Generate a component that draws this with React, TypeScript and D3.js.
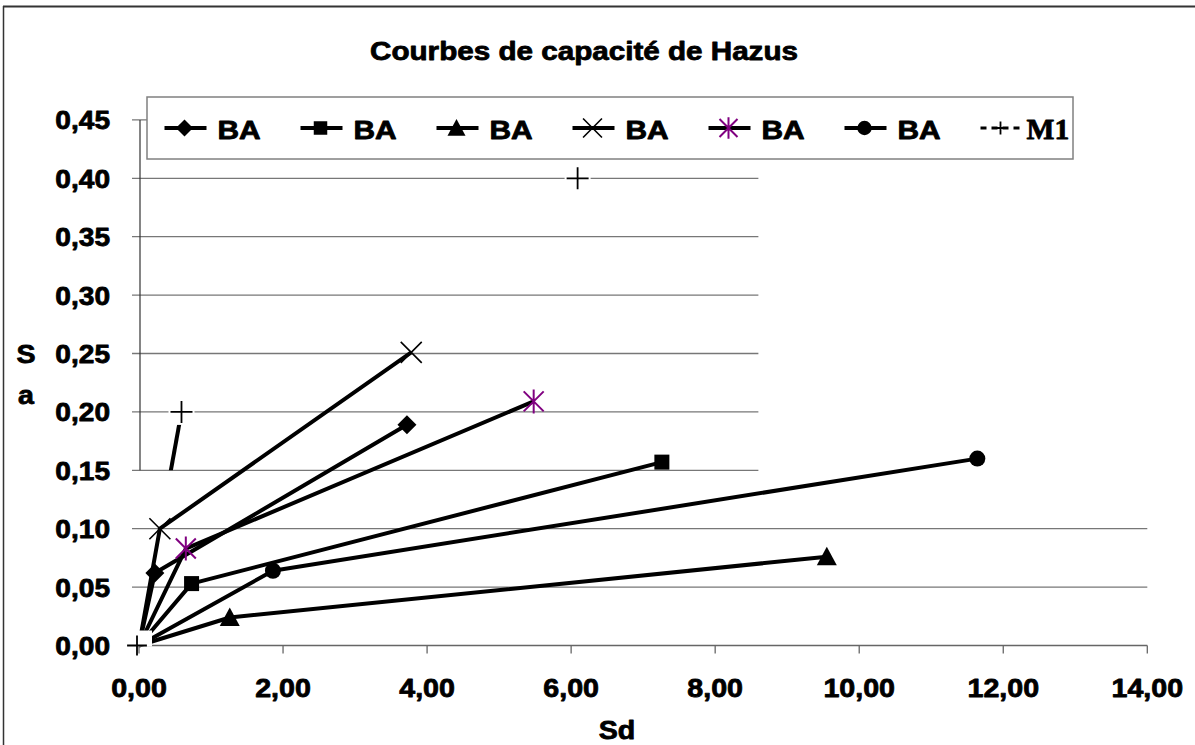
import * as d3 from 'd3'

const W = 1195, H = 745

// Hazus capacity curves (Sd, Sa)
const sdDiamond = [0, 0.22, 3.72]
const saDiamond = [0, 0.062, 0.189]
const sdSquare = [0, 0.73, 7.26]
const saSquare = [0, 0.053, 0.157]
const sdTriangle = [0, 1.26, 9.55]
const saTriangle = [0, 0.024, 0.076]
const sdCross = [0, 0.29, 3.78]
const saCross = [0, 0.1, 0.251]
const sdStar = [0, 0.65, 5.48]
const saStar = [0, 0.083, 0.209]
const sdCircle = [0, 1.86, 11.64]
const saCircle = [0, 0.064, 0.16]
const sdM1 = [0, 0.59, 6.09]
const saM1 = [0, 0.2, 0.4]

const legendNames = ['BA', 'BA', 'BA', 'BA', 'BA', 'BA', 'M1']
const xTicks = [0, 2, 4, 6, 8, 10, 12, 14]
const yTicks = [0, 0.05, 0.1, 0.15, 0.2, 0.25, 0.3, 0.35, 0.4, 0.45]

const x = d3.scaleLinear().domain([0, 14]).range([139, 1147.3])
const y = d3.scaleLinear().domain([0, 0.45]).range([645.5, 119.9])

const fmt = (v: number, d: number) => v.toFixed(d).replace('.', ',')
const ARIAL = "'Liberation Sans', Arial, sans-serif"
const SERIF = "'Liberation Serif', 'Times New Roman', serif"

const SText = ({ x, y, anchor = 'start', size = 26, sx = 1.1, family = ARIAL, fill = '#000', children }: any) => (
  <g transform={`translate(${x},${y}) scale(${sx},1)`}>
    <text textAnchor={anchor} fontSize={size} fontWeight="bold" fontFamily={family} fill={fill}
      stroke={fill} strokeWidth={0.8} strokeLinejoin="round">{children}</text>
  </g>
)

// marker drawing, centred on 0,0
const Marker = ({ kind, s = 1 }: { kind: string, s?: number }) => {
  if (kind === 'diamond') {
    const r = 9.5 * s
    return <path d={`M0,${-r}L${r},0L0,${r}L${-r},0Z`} fill="#000" />
  }
  if (kind === 'square') {
    const r = 7.5 * s
    return <rect x={-r} y={-r} width={2 * r} height={2 * r} fill="#000" />
  }
  if (kind === 'triangle') {
    const r = 10 * s
    return <path d={`M0,${-r}L${r},${r * 0.85}L${-r},${r * 0.85}Z`} fill="#000" />
  }
  if (kind === 'circle') {
    return <circle r={8 * s} fill="#000" />
  }
  if (kind === 'x') {
    const r = 10.5 * s
    return <path d={`M${-r},${-r}L${r},${r}M${-r},${r}L${r},${-r}`} stroke="#000" strokeWidth={1.6} />
  }
  if (kind === 'star') {
    const r = 10 * s
    return <path d={`M${-r},${-r}L${r},${r}M${-r},${r}L${r},${-r}M0,${-r * 1.2}L0,${r * 1.2}`} stroke="#800080" strokeWidth={2} />
  }
  // plus
  const r = 11 * s
  return <path d={`M${-r},0L${r},0M0,${-r}L0,${r}`} stroke="#000" strokeWidth={1.8} />
}

const series = [
  { kind: 'diamond', sd: sdDiamond, sa: saDiamond },
  { kind: 'square', sd: sdSquare, sa: saSquare },
  { kind: 'triangle', sd: sdTriangle, sa: saTriangle },
  { kind: 'x', sd: sdCross, sa: saCross },
  { kind: 'star', sd: sdStar, sa: saStar },
  { kind: 'circle', sd: sdCircle, sa: saCircle },
]
const legendKinds = ['diamond', 'square', 'triangle', 'x', 'star', 'circle', 'plus']

const line = d3.line<[number, number]>().x(d => x(d[0])).y(d => y(d[1]))

export default function App() {
  const gridEnd = x(8.6)
  const upper = yTicks.filter(t => t >= 0.15)
  const lower = yTicks.filter(t => t > 0 && t < 0.15)
  const m1pts: [number, number][] = sdM1.map((d, i) => [d, saM1[i]])

  return (
    <svg width={W} height={H} style={{ position: 'absolute', left: 0, top: 0, background: '#fff' }}>
      <defs>
        <clipPath id="upperClip">
          <rect x={0} y={0} width={W} height={y(0.15)} />
        </clipPath>
        <clipPath id="ylabClip">
          <rect x={0} y={0} width={60} height={421} />
        </clipPath>
      </defs>

      {/* outer frame */}
      <line x1={3.5} y1={6} x2={3.5} y2={H} stroke="#333" strokeWidth={1.5} />
      <line x1={3} y1={6.5} x2={W} y2={6.5} stroke="#333" strokeWidth={2.2} />

      <SText x={584} y={60} anchor="middle" size={26} sx={1.14}>Courbes de capacité de Hazus</SText>

      {/* grid */}
      {upper.map(t => (
        <line key={t} x1={x(0) - 7} x2={gridEnd} y1={y(t)} y2={y(t)} stroke="#777" strokeWidth={1.3} />
      ))}
      {lower.map(t => (
        <line key={t} x1={x(0) - 7} x2={x(14)} y1={y(t)} y2={y(t)} stroke="#777" strokeWidth={1.3} />
      ))}
      <line x1={x(0) + 1} x2={x(0) + 1} y1={y(0.45)} y2={y(0.15)} stroke="#333" strokeWidth={1.2} />
      <line x1={x(0)} x2={x(14)} y1={y(0)} y2={y(0)} stroke="#666" strokeWidth={1.5} />
      {xTicks.map(t => (
        <line key={t} x1={x(t)} x2={x(t)} y1={y(0)} y2={y(0) + 8} stroke="#666" strokeWidth={1.3} />
      ))}

      {/* M1 : only the first piece of its line shows */}
      <path d={line(m1pts.slice(0, 2)) || ''} clipPath="url(#upperClip)" fill="none" stroke="#000" strokeWidth={4} />
      {m1pts.slice(1).map((p, i) => (
        <g key={i} transform={`translate(${x(p[0])},${y(p[1])})`}>
          <rect x={-13} y={-13} width={26} height={26} fill="#fff" />
          <Marker kind="plus" />
        </g>
      ))}

      {/* BA curves */}
      {series.map((s, i) => {
        const pts: [number, number][] = s.sd.map((d, j) => [d, s.sa[j]])
        return (
          <g key={i}>
            <path d={line(pts) || ''} fill="none" stroke="#000" strokeWidth={4} strokeLinejoin="round" />
            {pts.slice(1).map((p, j) => (
              <g key={j} transform={`translate(${x(p[0])},${y(p[1])})`}>
                <Marker kind={s.kind} />
              </g>
            ))}
          </g>
        )
      })}

      {/* origin */}
      <rect x={x(0) - 11} y={y(0) - 15} width={24} height={16} fill="#fff" />
      <g transform={`translate(${x(m1pts[0][0]) - 2},${y(m1pts[0][1])})`}>
        <Marker kind="plus" s={0.9} />
      </g>

      {/* legend */}
      <rect x={147} y={97} width={926} height={62} fill="#fff" stroke="#808080" strokeWidth={1.5} />
      {legendNames.map((name, i) => {
        const lx = 164.5 + i * 136
        const ly = 128
        const isM1 = name === 'M1'
        return (
          <g key={i}>
            <line x1={lx} x2={lx + 42} y1={ly} y2={ly} stroke="#000" strokeWidth={isM1 ? 3 : 4}
              strokeDasharray={isM1 ? '6,5' : undefined} />
            <g transform={`translate(${lx + 20},${ly})`}>
              <Marker kind={legendKinds[i]} s={isM1 ? 0.6 : 0.9} />
            </g>
            {isM1
              ? <SText x={lx + 46} y={ly + 11} size={29} sx={1.02} family={SERIF}>{name}</SText>
              : <SText x={lx + 53} y={ly + 11} size={26} sx={1.15}>{name}</SText>}
          </g>
        )
      })}

      {/* tick labels */}
      {yTicks.map(t => (
        <SText key={t} x={110} y={y(t) + 9.5} anchor="end" size={26} sx={1.08}>{fmt(t, 2)}</SText>
      ))}
      {xTicks.map(t => (
        <SText key={t} x={x(t)} y={697} anchor="middle" size={26} sx={1.1}>{fmt(t, 2)}</SText>
      ))}

      {/* axis titles */}
      <SText x={617} y={739} anchor="middle" size={26}>Sd</SText>
      <SText x={26} y={363} anchor="middle" size={26}>S</SText>
      <SText x={26} y={404} anchor="middle" size={26}>a</SText>
      <g clipPath="url(#ylabClip)">
        <SText x={24} y={444} anchor="middle" size={26}>/</SText>
      </g>
    </svg>
  )
}
